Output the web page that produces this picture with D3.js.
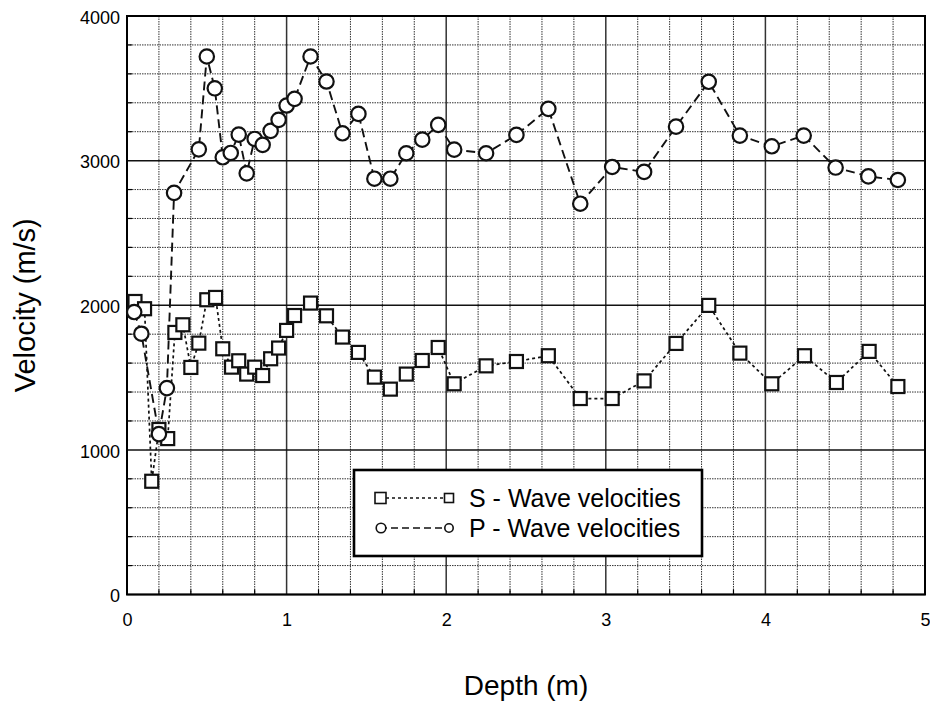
<!DOCTYPE html>
<html>
<head>
<meta charset="utf-8">
<script src="https://cdn.jsdelivr.net/npm/d3@7"></script>
<style>
  body { margin: 0; background: #fff; }
  svg { display: block; font-family: "Liberation Sans", Arial, sans-serif; }
</style>
</head>
<body>
<svg id="chart" width="930" height="706"></svg>
<script>
// S-wave velocities (squares, dotted line)
var sDepth = [0.05, 0.11, 0.155, 0.2, 0.255, 0.3, 0.35, 0.4, 0.45, 0.5, 0.555, 0.6, 0.655, 0.7, 0.75,
              0.8, 0.85, 0.9, 0.95, 1.0, 1.05, 1.15, 1.25, 1.35, 1.45, 1.55, 1.65, 1.75, 1.85, 1.95,
              2.05, 2.25, 2.44, 2.64, 2.84, 3.04, 3.24, 3.44, 3.645, 3.84, 4.04, 4.245, 4.445, 4.65, 4.83];
var sVel = [2026, 1976, 783, 1141, 1078, 1812, 1865, 1570, 1738, 2038, 2054, 1699, 1572, 1616, 1524,
            1572, 1514, 1630, 1704, 1826, 1929, 2015, 1927, 1780, 1674, 1503, 1420, 1524, 1618, 1708,
            1457, 1581, 1611, 1651, 1355, 1355, 1477, 1736, 1999, 1669, 1457, 1651, 1466, 1681, 1438];

// P-wave velocities (circles, dashed line)
var pDepth = [0.045, 0.09, 0.2, 0.25, 0.295, 0.45, 0.5, 0.55, 0.6, 0.65, 0.7, 0.75, 0.8, 0.85, 0.9,
              0.95, 1.0, 1.05, 1.15, 1.25, 1.35, 1.45, 1.55, 1.65, 1.75, 1.85, 1.95, 2.05, 2.25, 2.44,
              2.64, 2.84, 3.04, 3.24, 3.44, 3.645, 3.84, 4.04, 4.24, 4.44, 4.645, 4.83];
var pVel = [1953, 1803, 1109, 1427, 2777, 3078, 3720, 3500, 3023, 3053, 3180, 2912, 3150, 3109, 3206,
            3282, 3381, 3427, 3720, 3547, 3189, 3323, 2875, 2875, 3051, 3145, 3247, 3076, 3051, 3178,
            3358, 2702, 2956, 2922, 3235, 3545, 3173, 3099, 3173, 2952, 2891, 2866];

var xTicks = [0, 1, 2, 3, 4, 5];
var yTicks = [0, 1000, 2000, 3000, 4000];
var legendLabels = ["S - Wave velocities", "P - Wave velocities"];

var margin = {top: 16, right: 5, bottom: 111.5, left: 127},
    width = 930 - margin.left - margin.right,
    height = 706 - margin.top - margin.bottom;

var svg = d3.select("#chart")
    .append("g")
    .attr("transform", "translate(" + margin.left + "," + margin.top + ")");

var x = d3.scaleLinear().domain([0, 5]).range([0, width]);
var y = d3.scaleLinear().domain([0, 4000]).range([height, 0]);

// minor grid (every 0.2 m / 200 m/s), dotted
var xMinor = d3.range(0, 5.001, 0.2).filter(function (d) { return Math.abs(d - Math.round(d)) > 0.01; });
var yMinor = d3.range(0, 4001, 200).filter(function (d) { return d % 1000 !== 0; });

svg.append("g").selectAll("line").data(xMinor).enter().append("line")
    .attr("x1", function (d) { return x(d); }).attr("x2", function (d) { return x(d); })
    .attr("y1", 0).attr("y2", height)
    .attr("stroke", "#333").attr("stroke-width", 1).attr("stroke-dasharray", "1.5,1");

svg.append("g").selectAll("line").data(yMinor).enter().append("line")
    .attr("y1", function (d) { return y(d); }).attr("y2", function (d) { return y(d); })
    .attr("x1", 0).attr("x2", width)
    .attr("stroke", "#333").attr("stroke-width", 1).attr("stroke-dasharray", "1.5,1");

// major grid, solid
svg.append("g").selectAll("line").data(xTicks).enter().append("line")
    .attr("x1", function (d) { return x(d); }).attr("x2", function (d) { return x(d); })
    .attr("y1", 0).attr("y2", height)
    .attr("stroke", "#333").attr("stroke-width", 1.5);

svg.append("g").selectAll("line").data(yTicks).enter().append("line")
    .attr("y1", function (d) { return y(d); }).attr("y2", function (d) { return y(d); })
    .attr("x1", 0).attr("x2", width)
    .attr("stroke", "#111").attr("stroke-width", 1.5);

// small inward ticks
svg.append("g").selectAll("line").data(xMinor).enter().append("line")
    .attr("x1", function (d) { return x(d); }).attr("x2", function (d) { return x(d); })
    .attr("y1", height).attr("y2", height - 5)
    .attr("stroke", "#000").attr("stroke-width", 1.2);
svg.append("g").selectAll("line").data(yMinor).enter().append("line")
    .attr("y1", function (d) { return y(d); }).attr("y2", function (d) { return y(d); })
    .attr("x1", 0).attr("x2", 5)
    .attr("stroke", "#000").attr("stroke-width", 1.2);

// axes (labels only)
svg.append("g")
    .attr("class", "x axis")
    .attr("transform", "translate(0," + height + ")")
    .call(d3.axisBottom(x).tickValues(xTicks).tickFormat(d3.format("d")).tickSize(0).tickPadding(19))
    .call(function (g) { g.select(".domain").remove(); })
    .selectAll("text").attr("font-size", "18px").attr("fill", "#000");

svg.append("g")
    .attr("class", "y axis")
    .call(d3.axisLeft(y).tickValues(yTicks).tickFormat(d3.format("d")).tickSize(0).tickPadding(7))
    .call(function (g) { g.select(".domain").remove(); })
    .selectAll("text").attr("font-size", "18px").attr("fill", "#000").attr("dy", "0.4em");

// plot frame
svg.append("rect")
    .attr("x", 0).attr("y", 0).attr("width", width).attr("height", height)
    .attr("fill", "none").attr("stroke", "#000").attr("stroke-width", 2);

var sData = sDepth.map(function (d, i) { return {x: d, v: sVel[i]}; });
var pData = pDepth.map(function (d, i) { return {x: d, v: pVel[i]}; });

var line = d3.line().x(function (d) { return x(d.x); }).y(function (d) { return y(d.v); });

svg.append("path").datum(sData)
    .attr("d", line).attr("fill", "none")
    .attr("stroke", "#111").attr("stroke-width", 1.7).attr("stroke-dasharray", "3,3");

svg.append("path").datum(pData)
    .attr("d", line).attr("fill", "none")
    .attr("stroke", "#111").attr("stroke-width", 1.9).attr("stroke-dasharray", "9,5");

var sq = 13;
svg.append("g").selectAll("rect").data(sData).enter().append("rect")
    .attr("x", function (d) { return x(d.x) - sq / 2; })
    .attr("y", function (d) { return y(d.v) - sq / 2; })
    .attr("width", sq).attr("height", sq)
    .attr("fill", "#fff").attr("stroke", "#111").attr("stroke-width", 2.2);

svg.append("g").selectAll("circle").data(pData).enter().append("circle")
    .attr("cx", function (d) { return x(d.x); })
    .attr("cy", function (d) { return y(d.v); })
    .attr("r", 7.2)
    .attr("fill", "#fff").attr("stroke", "#111").attr("stroke-width", 2.2);

// legend
var leg = d3.select("#chart").append("g").attr("transform", "translate(354,470)");
leg.append("rect")
    .attr("width", 348).attr("height", 86)
    .attr("fill", "#fff").attr("stroke", "#000").attr("stroke-width", 2.6);

var rows = [28, 58];
var dashes = ["3,3", "7,4"];
legendLabels.forEach(function (lab, i) {
    var ry = rows[i];
    leg.append("line")
        .attr("x1", 26).attr("x2", 95).attr("y1", ry).attr("y2", ry)
        .attr("stroke", "#111").attr("stroke-width", 1.5).attr("stroke-dasharray", dashes[i]);
    if (i === 0) {
        leg.append("rect").attr("x", 21).attr("y", ry - 5.5).attr("width", 11).attr("height", 11)
            .attr("fill", "#fff").attr("stroke", "#111").attr("stroke-width", 1.6);
        leg.append("rect").attr("x", 90.5).attr("y", ry - 4.5).attr("width", 9).attr("height", 9)
            .attr("fill", "#fff").attr("stroke", "#111").attr("stroke-width", 1.6);
    } else {
        leg.append("circle").attr("cx", 27).attr("cy", ry).attr("r", 4.8)
            .attr("fill", "#fff").attr("stroke", "#111").attr("stroke-width", 1.6);
        leg.append("circle").attr("cx", 95).attr("cy", ry).attr("r", 4.2)
            .attr("fill", "#fff").attr("stroke", "#111").attr("stroke-width", 1.6);
    }
    leg.append("text")
        .attr("x", 115).attr("y", ry + 8.5)
        .attr("font-size", "25px").attr("fill", "#000")
        .text(lab);
});

// axis titles
d3.select("#chart").append("text")
    .attr("transform", "translate(" + (margin.left + width / 2) + ",695)")
    .attr("text-anchor", "middle").attr("font-size", "28px").attr("fill", "#000")
    .text("Depth (m)");

d3.select("#chart").append("text")
    .attr("transform", "translate(35," + (margin.top + height / 2) + ") rotate(-90)")
    .attr("text-anchor", "middle").attr("font-size", "29px").attr("fill", "#000")
    .text("Velocity (m/s)");
</script>
</body>
</html>
